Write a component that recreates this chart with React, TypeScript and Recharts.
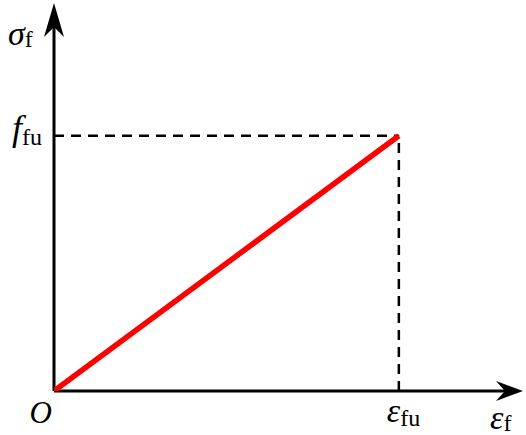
import { LineChart, Line, XAxis, YAxis, ReferenceLine } from 'recharts'

// ε_fu and f_fu normalised to 1
const strain = [0, 1]
const stress = [0, 1]
const xTicks = [0, 1]
const yTicks = [1]
const xMax = 1.36
const yMax = 1.52

const data = strain.map((s, i) => ({ strain: s, stress: stress[i] }))

const FONT = "'Liberation Serif', 'Times New Roman', serif"
const txt = { fontFamily: FONT, fill: '#000' }

const renderXTick = (props: any) => {
    const { x, y, payload } = props
    if (payload.value === 0) {
        return (
            <text x={x - 2} y={y + 24} textAnchor="end" fontSize={31} fontStyle="italic" style={txt}>
                O
            </text>
        )
    }
    return (
        <text x={x - 12} y={y + 23} fontSize={34} style={txt}>
            <tspan fontStyle="italic">ε</tspan>
            <tspan fontSize={24} dy={4}>fu</tspan>
        </text>
    )
}

const renderYTick = (props: any) => {
    const { x, y } = props
    return (
        <text x={x - 4} y={y + 4} textAnchor="end" fontSize={36} style={txt}>
            <tspan fontStyle="italic">f</tspan>
            <tspan fontSize={24} dy={5}>fu</tspan>
        </text>
    )
}

const XAxisArrow = (props: any) => {
    const { x1, y1, x2, y2 } = props
    return (
        <g>
            <line x1={x1} y1={y1} x2={x2 - 14} y2={y2} stroke="#000" strokeWidth={3} />
            <path d={`M${x2},${y2} L${x2 - 27},${y2 - 10} L${x2 - 18},${y2} L${x2 - 27},${y2 + 10} Z`} fill="#000" />
            <text x={x2 - 33} y={y2 + 38} fontSize={34} style={txt}>
                <tspan fontStyle="italic">ε</tspan>
                <tspan fontSize={24} dy={2}>f</tspan>
            </text>
        </g>
    )
}

const YAxisArrow = (props: any) => {
    const { x1, y1, x2, y2 } = props
    return (
        <g>
            <line x1={x1} y1={y1} x2={x2} y2={y2 + 16} stroke="#000" strokeWidth={3} />
            <path d={`M${x2},${y2} L${x2 - 10},${y2 + 34} L${x2},${y2 + 24} L${x2 + 10},${y2 + 34} Z`} fill="#000" />
            <text x={x2 - 46} y={y2 + 42} fontSize={34} style={txt}>
                <tspan fontStyle="italic">σ</tspan>
                <tspan fontSize={24} dy={2}>f</tspan>
            </text>
        </g>
    )
}

export default function App() {
    return (
        <div style={{ position: 'absolute', left: 0, top: 0, background: '#fff' }}>
            <LineChart width={526} height={435} data={data} margin={{ top: 3, right: 3, bottom: 43, left: 53 }}>
                <XAxis
                    type="number"
                    dataKey="strain"
                    domain={[0, xMax]}
                    ticks={xTicks}
                    height={1}
                    axisLine={false}
                    tickLine={false}
                    tick={renderXTick}
                    interval={0}
                    allowDataOverflow
                />
                <YAxis
                    type="number"
                    domain={[0, yMax]}
                    ticks={yTicks}
                    width={1}
                    axisLine={false}
                    tickLine={false}
                    tick={renderYTick}
                    interval={0}
                    allowDataOverflow
                />
                <ReferenceLine
                    segment={[{ x: 0, y: stress[1] }, { x: strain[1], y: stress[1] }]}
                    stroke="#000"
                    strokeWidth={2.5}
                    strokeDasharray="10 7"
                    ifOverflow="visible"
                />
                <ReferenceLine
                    segment={[{ x: strain[1], y: 0 }, { x: strain[1], y: stress[1] }]}
                    stroke="#000"
                    strokeWidth={2.5}
                    strokeDasharray="10 7"
                    ifOverflow="visible"
                />
                <ReferenceLine segment={[{ x: 0, y: 0 }, { x: xMax, y: 0 }]} shape={<XAxisArrow />} ifOverflow="visible" />
                <ReferenceLine segment={[{ x: 0, y: 0 }, { x: 0, y: yMax }]} shape={<YAxisArrow />} ifOverflow="visible" />
                <Line
                    type="linear"
                    dataKey="stress"
                    stroke="#ff0000"
                    strokeWidth={5.5}
                    dot={false}
                    activeDot={false}
                    isAnimationActive={false}
                />
            </LineChart>
        </div>
    )
}
